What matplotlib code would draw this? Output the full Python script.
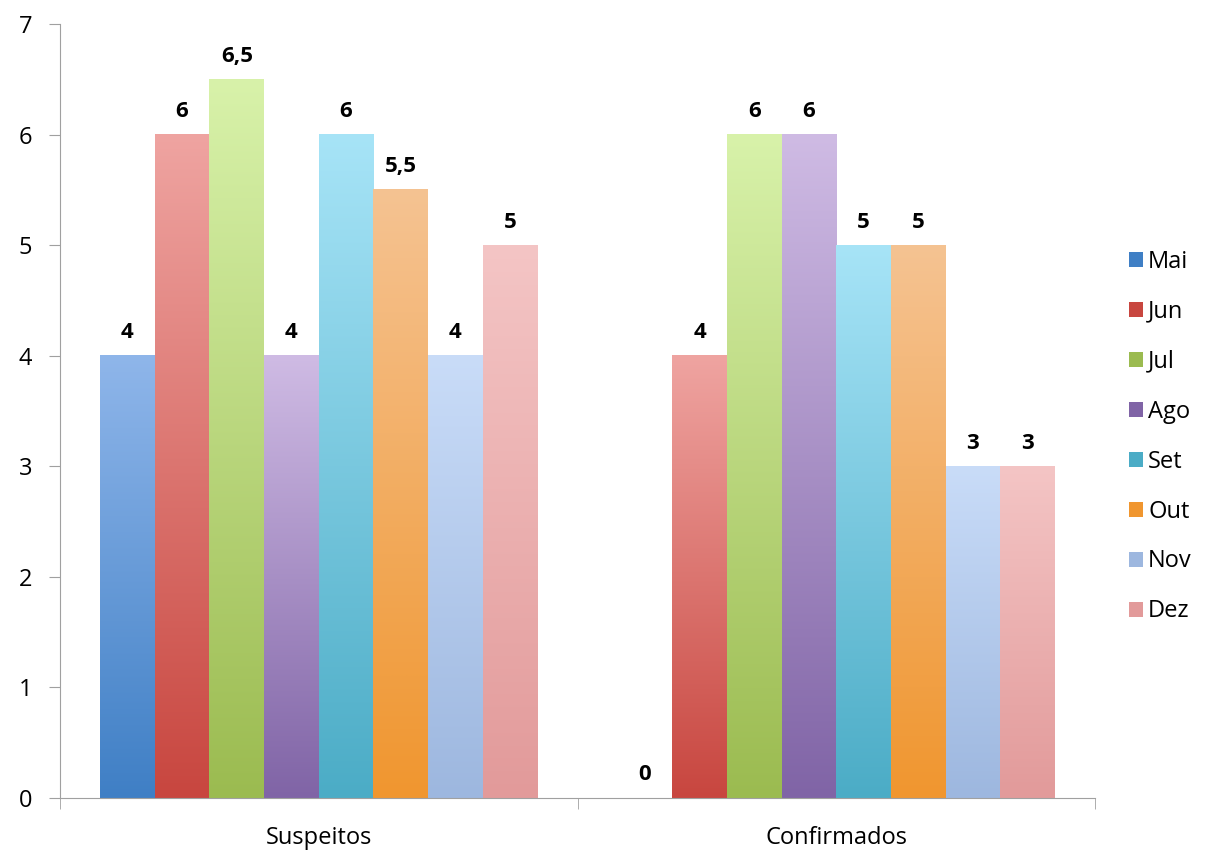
import matplotlib.pyplot as plt
import numpy as np
from matplotlib.colors import LinearSegmentedColormap
from matplotlib.patches import Patch

plt.rcParams['font.family'] = ['Open Sans', 'DejaVu Sans']

categories = ['Suspeitos', 'Confirmados']
months = ['Mai', 'Jun', 'Jul', 'Ago', 'Set', 'Out', 'Nov', 'Dez']
values = {
    'Mai': [4, 0],
    'Jun': [6, 4],
    'Jul': [6.5, 6],
    'Ago': [4, 6],
    'Set': [6, 5],
    'Out': [5.5, 5],
    'Nov': [4, 3],
    'Dez': [5, 3],
}
# bottom (dark) and top (light) colours of each gradient
bottom_colors = ['#3F7FC5', '#C8463F', '#9BBB50', '#8064A6', '#4BACC6', '#F0962F', '#9DB7DF', '#E29A9A']
top_colors = ['#8FB6EA', '#EFA4A1', '#D8F2AA', '#CFBBE4', '#A7E4F7', '#F5C392', '#C9DCF8', '#F4C5C5']

fig = plt.figure(figsize=(12.07, 8.56), dpi=100)
ax = fig.add_axes([60 / 1207, 58 / 856, 1035 / 1207, 774 / 856])

n = len(months)
group_w = 0.845
bw = group_w / n
grad = np.linspace(0, 1, 256).reshape(-1, 1)

for i, m in enumerate(months):
    cmap = LinearSegmentedColormap.from_list(m, [bottom_colors[i], top_colors[i]])
    for j, v in enumerate(values[m]):
        x0 = j - group_w / 2 + i * bw
        if v > 0:
            ax.imshow(grad, extent=[x0, x0 + bw, 0, v], origin='lower', aspect='auto',
                      cmap=cmap, zorder=2, interpolation='bicubic')
        lbl = str(v).replace('.', ',') if v % 1 else str(int(v))
        ax.annotate(lbl, (x0 + bw / 2, v), xytext=(0, 9), textcoords='offset points',
                    ha='center', va='bottom', fontsize=16, fontweight='bold', color='black')

ax.set_xlim(-0.5, 1.5)
ax.set_ylim(0, 7)
ax.set_yticks(range(8))
ax.set_xticks([0, 1])
ax.set_xticklabels(categories)
ax.set_xticks([-0.5, 0.5, 1.5], minor=True)
ax.tick_params(axis='x', which='major', length=0, pad=20, labelsize=17)
ax.tick_params(axis='x', which='minor', length=8, color='#A0A0A0')
ax.tick_params(axis='y', length=8, color='#A0A0A0', labelsize=17, pad=12)
for s in ['top', 'right']:
    ax.spines[s].set_visible(False)
for s in ['left', 'bottom']:
    ax.spines[s].set_color('#A0A0A0')

handles = [Patch(facecolor=bottom_colors[i], label=m) for i, m in enumerate(months)]
fig.legend(handles=handles, loc='center left', bbox_to_anchor=(1108 / 1207, 0.49), frameon=False,
           fontsize=17, labelspacing=1.1, handlelength=0.6, handleheight=0.6, handletextpad=0.2)

fig.savefig('out.png', dpi=100)
